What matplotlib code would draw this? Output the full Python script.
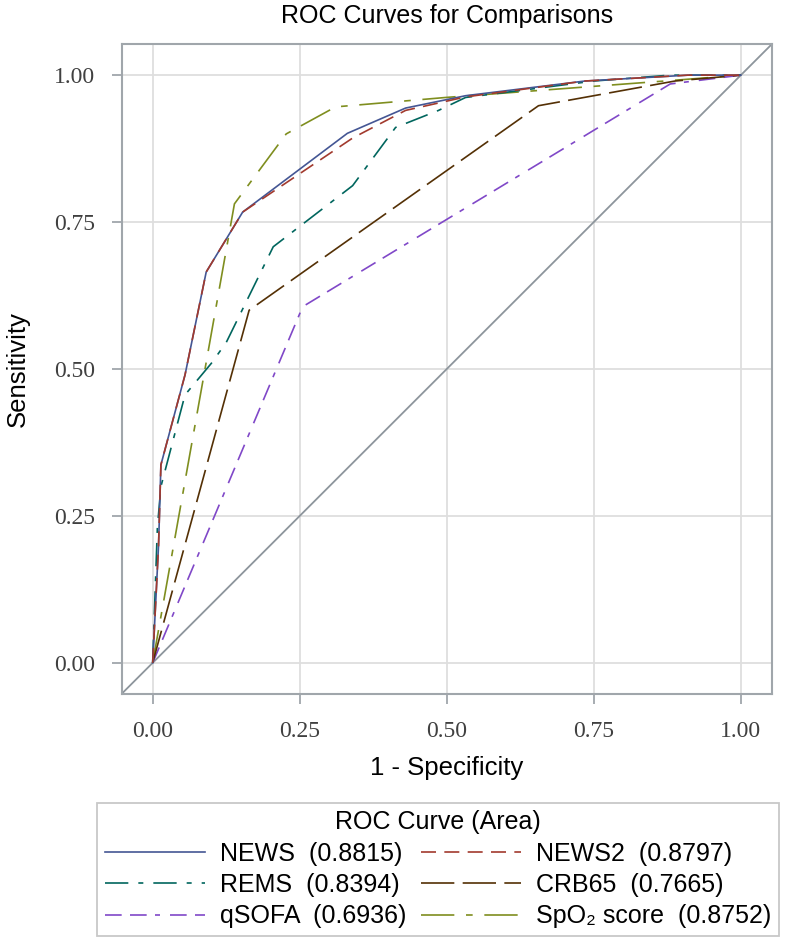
import numpy as np
import matplotlib
matplotlib.use("Agg")
from matplotlib import pyplot as plt
from matplotlib.lines import Line2D

# ROC points (1 - specificity, sensitivity)
news_x = [0.0, 0.010, 0.014, 0.055, 0.091, 0.153, 0.331, 0.43, 0.532, 0.735, 0.91, 1.0]
news_y = [0.0, 0.20, 0.337, 0.49, 0.665, 0.767, 0.901, 0.944, 0.965, 0.99, 1.0, 1.0]

news2_x = [0.0, 0.010, 0.014, 0.055, 0.091, 0.153, 0.34, 0.43, 0.532, 0.735, 0.91, 1.0]
news2_y = [0.0, 0.20, 0.337, 0.49, 0.665, 0.767, 0.893, 0.94, 0.963, 0.99, 1.0, 1.0]

rems_x = [0.0, 0.008, 0.014, 0.055, 0.10, 0.125, 0.205, 0.34, 0.413, 0.486, 0.532, 0.75, 0.88, 1.0]
rems_y = [0.0, 0.23, 0.30, 0.456, 0.51, 0.545, 0.708, 0.812, 0.911, 0.94, 0.962, 0.99, 1.0, 1.0]

crb65_x = [0.0, 0.164, 0.656, 0.888, 1.0]
crb65_y = [0.0, 0.60, 0.948, 0.99, 1.0]

qsofa_x = [0.0, 0.255, 0.88, 1.0]
qsofa_y = [0.0, 0.606, 0.985, 1.0]

spo2_x = [0.0, 0.139, 0.227, 0.311, 0.498, 0.87, 1.0]
spo2_y = [0.0, 0.781, 0.90, 0.946, 0.962, 0.99, 1.0]

names = ["NEWS", "NEWS2", "REMS", "CRB65", "qSOFA", "SpO\u2082 score"]
areas = [0.8815, 0.8797, 0.8394, 0.7665, 0.6936, 0.8752]

ticks = [0.0, 0.25, 0.5, 0.75, 1.0]
tick_labels = ["0.00", "0.25", "0.50", "0.75", "1.00"]

SANS = ["Liberation Sans", "DejaVu Sans"]
SERIF = ["Liberation Serif", "DejaVu Serif"]
plt.rcParams["font.family"] = SANS

colors = ["#445694", "#A23A2E", "#01665E", "#543005", "#8048C8", "#7F8E1F"]
dashes = [None, (9, 5), (14, 6, 3, 6), (20, 5), (10, 5, 10, 5, 3, 6), (20, 7, 4, 7)]
GRID = "#dedede"
FRAME = "#a0a6ab"
W, H = 800.0, 949.0


def main():
    # frame at px 121..772 (x), 44..694 (y)
    fig = plt.figure(figsize=(8.0, 9.49), dpi=100)
    ax = fig.add_axes([121.5 / W, 1 - 694 / H, 650.5 / W, 650 / H])

    ax.set_xlim(-0.053, 1.053)
    ax.set_ylim(-0.053, 1.053)
    ax.set_xticks(ticks)
    ax.set_yticks(ticks)
    ax.set_xticklabels(tick_labels, family=SERIF, fontsize=17, color="#404040")
    ax.set_yticklabels(tick_labels, family=SERIF, fontsize=17, color="#404040")
    ax.grid(True, color=GRID, lw=1.3)
    ax.set_axisbelow(True)
    ax.tick_params(direction="out", length=7.2, width=1.3, color=FRAME)
    ax.tick_params(axis="x", pad=12.5)
    ax.tick_params(axis="y", pad=12)
    for sp in ax.spines.values():
        sp.set_color(FRAME)
        sp.set_linewidth(1.5)

    # chance line corner to corner
    ax.plot([-0.053, 1.053], [-0.053, 1.053], color="#8d959c", lw=1.3, zorder=2)

    xs = [news_x, news2_x, rems_x, crb65_x, qsofa_x, spo2_x]
    ys = [news_y, news2_y, rems_y, crb65_y, qsofa_y, spo2_y]
    order = [5, 4, 3, 2, 0, 1]
    for i in order:
        ln, = ax.plot(xs[i], ys[i], color=colors[i], lw=1.2, zorder=3 + (1 if i == 1 else 0))
        if dashes[i] is not None:
            ln.set_dashes(dashes[i])
    handles = []
    for i in range(6):
        h = Line2D([], [], color=colors[i], lw=1.2)
        if dashes[i] is not None:
            h.set_dashes(dashes[i])
        handles.append(h)
    labels = ["%s  (%.4f)" % (n, a) for n, a in zip(names, areas)]

    ax.set_title("ROC Curves for Comparisons", fontsize=18, pad=15)
    ax.set_xlabel("1 - Specificity", fontsize=18.5, labelpad=10)
    ax.set_ylabel("Sensitivity", fontsize=18.5)
    ax.yaxis.set_label_coords(-0.141, 0.5)

    idx = [0, 2, 4, 1, 3, 5]
    leg = fig.legend([handles[i] for i in idx], [labels[i] for i in idx],
                     ncol=2, title="ROC Curve (Area)", loc="upper left",
                     bbox_to_anchor=(97 / W, 1 - 803 / H),
                     borderaxespad=0.0,
                     fontsize=18, title_fontsize=18, handlelength=4.0,
                     handletextpad=0.6, columnspacing=0.6, labelspacing=0.29,
                     borderpad=0.3, fancybox=False, edgecolor="#c8c8c8",
                     framealpha=1)
    leg.get_frame().set_linewidth(1.3)

    plt.savefig("out.png", dpi=100)


if __name__ == '__main__':
    main()
